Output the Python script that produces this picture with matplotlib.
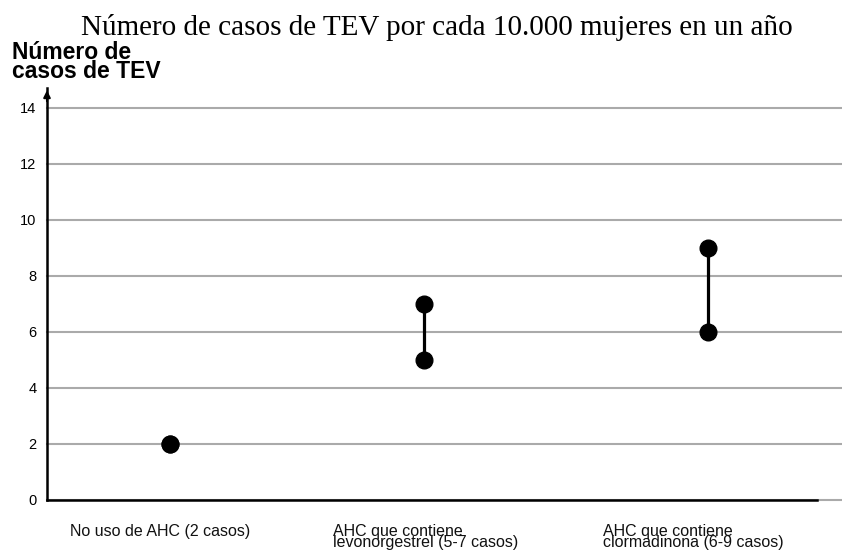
import matplotlib
matplotlib.use("Agg")
from matplotlib import pyplot as plt

# data
categories = ["No uso de AHC (2 casos)",
              "AHC que contiene\nlevonorgestrel (5-7 casos)",
              "AHC que contiene\nclormadinona (6-9 casos)"]
low = [2, 5, 6]
high = [2, 7, 9]
yticks = [0, 2, 4, 6, 8, 10, 12, 14]

# layout
xpos = [1.0, 2.0, 3.118]
label_left = [70, 333, 603]   # pixels

W, H = 842, 554
fig = plt.figure(figsize=(W / 100, H / 100), dpi=100)
ax = fig.add_axes([47 / W, 54.5 / H, (817 - 47) / W, (500 - 88) / H])
ax.set_xlim(0.516, 3.547)
ax.set_ylim(0, (500 - 88) / ((500 - 108) / 14))

for y in yticks:
    ax.axhline(y, xmin=0, xmax=(W - 47) / (817 - 47), color="#aaaaaa",
               lw=1.5, clip_on=False, zorder=1)

for x, lo, hi in zip(xpos, low, high):
    if hi != lo:
        ax.plot([x, x], [lo, hi], color="black", lw=2.3, zorder=2)
    ax.plot([x, x], [lo, hi], "o", color="black", ms=12, zorder=3)

for s in ["top", "right"]:
    ax.spines[s].set_visible(False)
ax.spines["left"].set_linewidth(1.8)
ax.spines["bottom"].set_linewidth(1.8)
ax.spines["bottom"].set_zorder(2)
ax.annotate("", xy=(0, 1.0), xycoords="axes fraction", xytext=(0, 0.96),
            arrowprops=dict(arrowstyle="-|>", color="black", lw=1.5,
                            mutation_scale=10))

ax.set_yticks(yticks)
ax.set_yticklabels([str(v) for v in yticks], fontsize=10.5,
                   family="Liberation Sans")
ax.tick_params(axis="y", length=0, pad=7.5)
ax.set_xticks([])

# category labels, lines squeezed together like the original
for lx, lab in zip(label_left, categories):
    n = lab.count("\n")
    fig.text(lx / W, (H - 536 - 10.5 * n) / H, lab, ha="left",
             va="baseline", fontsize=11.5, family="Liberation Sans",
             color="#111111", linespacing=0.6)

fig.text(437 / W, (H - 35) / H,
         "Número de casos de TEV por cada 10.000 mujeres en un año",
         ha="center", va="baseline", fontsize=21, family="Liberation Serif")
fig.text(12 / W, (H - 78) / H, "Número de\ncasos de TEV", ha="left",
         va="baseline", fontsize=16.5, fontweight="bold",
         family="Liberation Sans", linespacing=0.8)

fig.savefig("out.png", dpi=100)
